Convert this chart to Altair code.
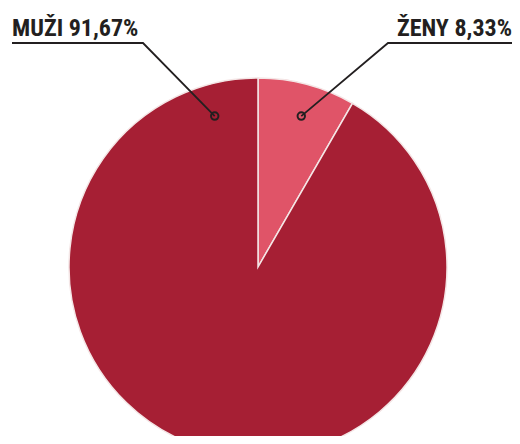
import altair as alt
import pandas as pd
import math

# data
categories = ["ŽENY", "MUŽI"]
values = [8.33, 91.67]
colors = ["#E05468", "#A61F34"]

# layout (chart pixel space)
W, H = 504, 428
CX, CY, R = 250, 259, 189
DOT_ANGLE = {"ŽENY": 16, "MUŽI": -16}
DOT_R = 157
UNDER_Y = 35
UNDER_X = {"MUŽI": (4, 135), "ŽENY": (380, 504)}
TEXT_Y = 28
FONT = "Roboto Condensed, DejaVu Sans Condensed, Roboto"

df = pd.DataFrame({"cat": categories, "val": values, "order": [0, 1]})
df["label"] = [f"{c} {v:.2f}%".replace(".", ",") for c, v in zip(categories, values)]

color_scale = alt.Scale(domain=categories, range=colors)

pie = alt.Chart(df).mark_arc(outerRadius=R, stroke="#f4e6e6", strokeWidth=1.5).encode(
    theta=alt.Theta("val:Q", stack=True),
    order=alt.Order("order:Q"),
    color=alt.Color("cat:N", scale=color_scale, legend=None),
    x=alt.value(CX), y=alt.value(CY),
)

xs = alt.Scale(domain=[0, W], range=[0, W])
ys = alt.Scale(domain=[0, H], range=[0, H])

rows = []
dots = []
texts = []
for c, lab in zip(categories, df["label"]):
    a = math.radians(DOT_ANGLE[c])
    dx = CX + DOT_R * math.sin(a)
    dy = CY - DOT_R * math.cos(a)
    x0, x1 = UNDER_X[c]
    if c == "MUŽI":
        pts = [(x0, UNDER_Y), (x1, UNDER_Y), (dx, dy)]
        texts.append({"cat": c, "label": lab, "px": x0, "py": TEXT_Y, "align": "left"})
    else:
        pts = [(x1, UNDER_Y), (x0, UNDER_Y), (dx, dy)]
        texts.append({"cat": c, "label": lab, "px": x1, "py": TEXT_Y, "align": "right"})
    for i, (px, py) in enumerate(pts):
        rows.append({"cat": c, "seq": i, "px": px, "py": py})
    dots.append({"cat": c, "px": dx, "py": dy})

lines_df = pd.DataFrame(rows)
dots_df = pd.DataFrame(dots)
texts_df = pd.DataFrame(texts)

ink = "#231F20"

leaders = alt.Chart(lines_df).mark_line(color=ink, strokeWidth=1.8).encode(
    x=alt.X("px:Q", scale=xs, axis=None),
    y=alt.Y("py:Q", scale=ys, axis=None),
    detail="cat:N",
    order="seq:Q",
)

dot_marks = alt.Chart(dots_df).mark_point(shape="circle", size=55, filled=False, stroke=ink, strokeWidth=2, opacity=1).encode(
    x=alt.X("px:Q", scale=xs, axis=None),
    y=alt.Y("py:Q", scale=ys, axis=None),
)

text_left = alt.Chart(texts_df[texts_df["align"] == "left"]).mark_text(
    align="left", baseline="alphabetic", font=FONT, fontWeight="bold", fontSize=24, color=ink
).encode(
    x=alt.X("px:Q", scale=xs, axis=None),
    y=alt.Y("py:Q", scale=ys, axis=None),
    text="label:N",
)
text_right = alt.Chart(texts_df[texts_df["align"] == "right"]).mark_text(
    align="right", baseline="alphabetic", font=FONT, fontWeight="bold", fontSize=24, color=ink
).encode(
    x=alt.X("px:Q", scale=xs, axis=None),
    y=alt.Y("py:Q", scale=ys, axis=None),
    text="label:N",
)

chart = alt.layer(pie, leaders, dot_marks, text_left, text_right).properties(
    width=W, height=H, padding=0, background="white",
    autosize=alt.AutoSizeParams(type="none")
).configure_view(strokeWidth=0, stroke=None)

chart.save("out.html", embed_options={"renderer": "svg", "actions": False})
